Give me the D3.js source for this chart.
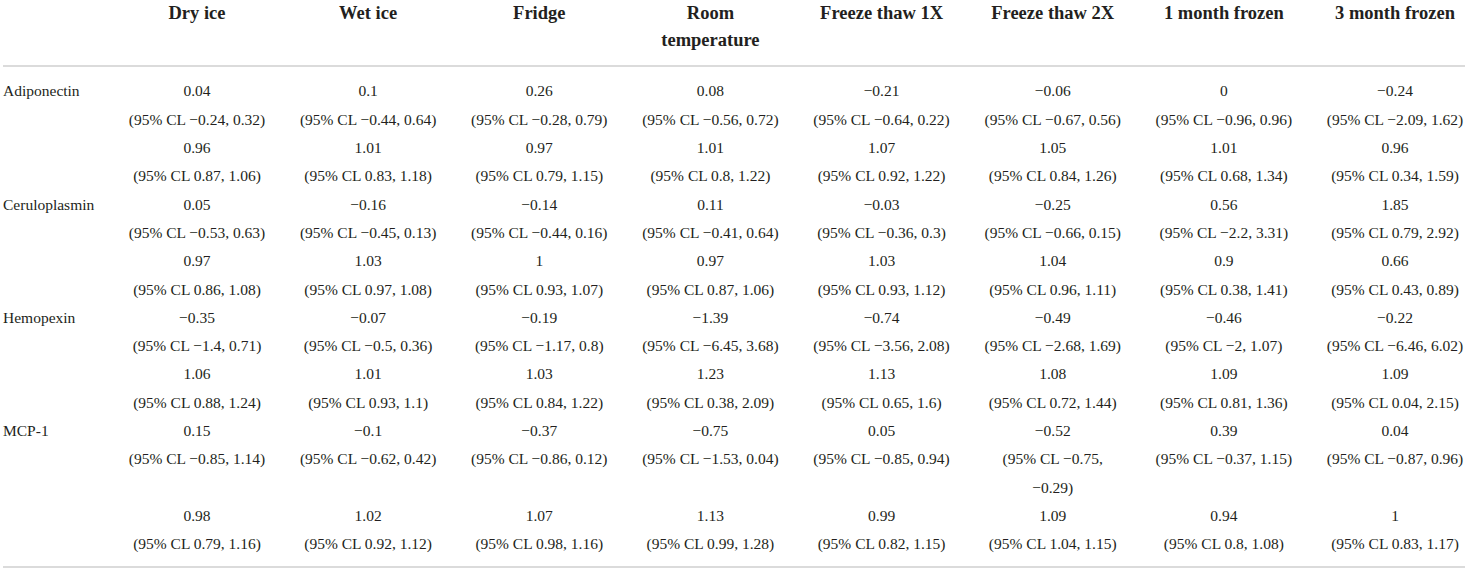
<!DOCTYPE html>
<html lang="en">
  <head>
    <style>
      body { margin: 0; background: #fff; }
      text { font-family: "Liberation Serif", serif; fill: #231f20; }
      .head text { font-weight: bold; font-size: 18.5px; }
      .cells text { font-size: 15.5px; }
      .rules line { stroke: #cfcfcf; stroke-width: 1.5; }
    </style>
  </head>

  <body>
    <svg id="container" height="572" width="1468">
      <g id="body"></g>
    </svg>
  </body>
  <script src="https://d3js.org/d3.v7.min.js"></script>
  <script>
let body = d3.select("#body")

// column headers ("\n" = line break in the header cell)
let conditions = ["Dry ice", "Wet ice", "Fridge", "Room\ntemperature",
    "Freeze thaw 1X", "Freeze thaw 2X", "1 month frozen", "3 month frozen"]

let proteins = ["Adiponectin", "Ceruloplasmin", "Hemopexin", "MCP-1"]

// first line of each protein: estimate and 95% CL
let interceptEst = [
    [0.04, 0.1, 0.26, 0.08, -0.21, -0.06, 0, -0.24],
    [0.05, -0.16, -0.14, 0.11, -0.03, -0.25, 0.56, 1.85],
    [-0.35, -0.07, -0.19, -1.39, -0.74, -0.49, -0.46, -0.22],
    [0.15, -0.1, -0.37, -0.75, 0.05, -0.52, 0.39, 0.04]
]
let interceptLow = [
    [-0.24, -0.44, -0.28, -0.56, -0.64, -0.67, -0.96, -2.09],
    [-0.53, -0.45, -0.44, -0.41, -0.36, -0.66, -2.2, 0.79],
    [-1.4, -0.5, -1.17, -6.45, -3.56, -2.68, -2, -6.46],
    [-0.85, -0.62, -0.86, -1.53, -0.85, -0.75, -0.37, -0.87]
]
let interceptHigh = [
    [0.32, 0.64, 0.79, 0.72, 0.22, 0.56, 0.96, 1.62],
    [0.63, 0.13, 0.16, 0.64, 0.3, 0.15, 3.31, 2.92],
    [0.71, 0.36, 0.8, 3.68, 2.08, 1.69, 1.07, 6.02],
    [1.14, 0.42, 0.12, 0.04, 0.94, -0.29, 1.15, 0.96]
]

// second line of each protein
let slopeEst = [
    [0.96, 1.01, 0.97, 1.01, 1.07, 1.05, 1.01, 0.96],
    [0.97, 1.03, 1, 0.97, 1.03, 1.04, 0.9, 0.66],
    [1.06, 1.01, 1.03, 1.23, 1.13, 1.08, 1.09, 1.09],
    [0.98, 1.02, 1.07, 1.13, 0.99, 1.09, 0.94, 1]
]
let slopeLow = [
    [0.87, 0.83, 0.79, 0.8, 0.92, 0.84, 0.68, 0.34],
    [0.86, 0.97, 0.93, 0.87, 0.93, 0.96, 0.38, 0.43],
    [0.88, 0.93, 0.84, 0.38, 0.65, 0.72, 0.81, 0.04],
    [0.79, 0.92, 0.98, 0.99, 0.82, 1.04, 0.8, 0.83]
]
let slopeHigh = [
    [1.06, 1.18, 1.15, 1.22, 1.22, 1.26, 1.34, 1.59],
    [1.08, 1.08, 1.07, 1.06, 1.12, 1.11, 1.41, 0.89],
    [1.24, 1.1, 1.22, 2.09, 1.6, 1.44, 1.36, 2.15],
    [1.16, 1.12, 1.16, 1.28, 1.15, 1.15, 1.08, 1.17]
]

let width = 1468
let maxCellWidth = 138
let lineStep = 28.3

let fmt = (v) => v < 0 ? "\u2212" + Math.abs(v) : String(v)

let x = d3.scalePoint()
    .domain(conditions)
    .range([197, 1395])

function showTable() {
    // headers
    let head = body.append("g").attr("class", "head")
    conditions.forEach((c) => {
        c.split("\n").forEach((line, i) => {
            head.append("text")
                .attr("x", x(c))
                .attr("y", 13 + i * 27)
                .attr("dy", "0.35em")
                .attr("text-anchor", "middle")
                .text(line)
        })
    })

    let rules = body.append("g").attr("class", "rules")
    rules.append("line").attr("x1", 3).attr("x2", width - 3).attr("y1", 66).attr("y2", 66)

    let cells = body.append("g").attr("class", "cells")
    let line = 0
    let y = (i) => 91 + i * lineStep

    proteins.forEach((p, pi) => {
        cells.append("text")
            .attr("x", 3)
            .attr("y", y(line))
            .attr("dy", "0.35em")
            .text(p)

        let subRows = [
            [interceptEst[pi], interceptLow[pi], interceptHigh[pi]],
            [slopeEst[pi], slopeLow[pi], slopeHigh[pi]]
        ]
        subRows.forEach(([est, lo, hi]) => {
            let extra = 0
            conditions.forEach((c, ci) => {
                cells.append("text")
                    .attr("x", x(c))
                    .attr("y", y(line))
                    .attr("dy", "0.35em")
                    .attr("text-anchor", "middle")
                    .text(fmt(est[ci]))

                let ci95 = cells.append("text")
                    .attr("x", x(c))
                    .attr("y", y(line + 1))
                    .attr("dy", "0.35em")
                    .attr("text-anchor", "middle")
                    .text("(95% CL " + fmt(lo[ci]) + ", " + fmt(hi[ci]) + ")")

                // wrap the interval when it is wider than the column
                if (ci95.node().getComputedTextLength() > maxCellWidth) {
                    ci95.text("(95% CL " + fmt(lo[ci]) + ",")
                    cells.append("text")
                        .attr("x", x(c))
                        .attr("y", y(line + 2))
                        .attr("dy", "0.35em")
                        .attr("text-anchor", "middle")
                        .text(fmt(hi[ci]) + ")")
                    extra = 1
                }
            })
            line += 2 + extra
        })
    })

    rules.append("line").attr("x1", 3).attr("x2", width - 3).attr("y1", 567).attr("y2", 567)
}

showTable()
  </script>
</html>
